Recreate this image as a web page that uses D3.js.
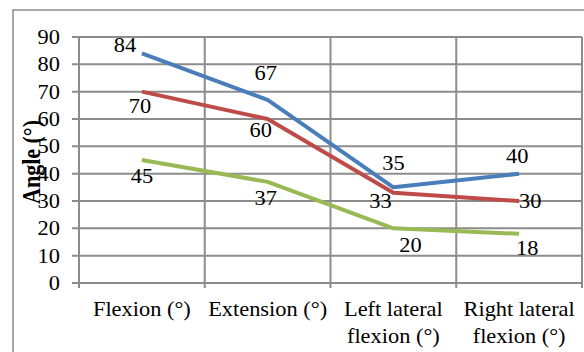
<!DOCTYPE html>
<html><head><meta charset="utf-8">
<script src="https://cdn.jsdelivr.net/npm/d3@7"></script>
<style>html,body{margin:0;padding:0;background:#fff;}svg{display:block;}
svg text{font-family:"Liberation Serif","Times New Roman",Tinos,"DejaVu Serif",serif;}</style>
</head><body>
<svg id="c" width="584" height="352"></svg>
<script>
// ---- data ----
const categories = ["Flexion (°)", "Extension (°)", "Left lateral flexion (°)", "Right lateral flexion (°)"];
const categoryLines = [["Flexion (°)"], ["Extension (°)"], ["Left lateral", "flexion (°)"], ["Right lateral", "flexion (°)"]];
const seriesBlue = [84, 67, 35, 40];
const seriesRed = [70, 60, 33, 30];
const seriesGreen = [45, 37, 20, 18];
const yTicks = [0, 10, 20, 30, 40, 50, 60, 70, 80, 90];
const yTitle = "Angle (°)";

// ---- presentation ----
const series = [
  {values: seriesBlue, color: "#4A7EBB", offs: [[-17,-1],[-2,-20],[0,-17],[-2,-11]]},
  {values: seriesRed, color: "#BE4B48", offs: [[-2,21],[-7,18],[-13,15],[11,7]]},
  {values: seriesGreen, color: "#98B954", offs: [[0,23],[-2,23],[17,24],[8,21]]}
];
const SX = 1.12, FS = 20;
const svg = d3.select("#c");
const L = 79, R = 582, T = 37, B = 283;
const x = d3.scaleBand().domain(categories).range([L, R]).padding(0);
const y = d3.scaleLinear().domain([0, 90]).range([B, T]);
const grid = "#8C8C8C";

// outer frame
svg.append("rect").attr("x", 13).attr("y", 10).attr("width", 600).attr("height", 400)
  .attr("fill", "none").attr("stroke", grid).attr("stroke-width", 1.5);

// horizontal gridlines + ticks
svg.append("g").selectAll("line").data(yTicks).join("line")
  .attr("x1", L - 7).attr("x2", R).attr("y1", d => y(d)).attr("y2", d => y(d))
  .attr("stroke", grid).attr("stroke-width", 2);
// vertical gridlines
const edges = categories.map(c => x(c)).concat([R]);
svg.append("g").selectAll("line").data(edges).join("line")
  .attr("x1", d => d).attr("x2", d => d).attr("y1", T).attr("y2", B + 5)
  .attr("stroke", grid).attr("stroke-width", 2);

function txt(g, s, tx, ty, anchor, extra) {
  return g.append("text").attr("transform", `translate(${tx},${ty}) scale(${SX},1)${extra||""}`)
    .attr("text-anchor", anchor).attr("font-size", FS).attr("fill", "#000").text(s);
}
// y tick labels
const gy = svg.append("g");
yTicks.forEach(v => txt(gy, v, 60, y(v) + 7, "end"));
// y title
const gt = svg.append("g");
txt(gt, yTitle, 40, 162, "middle", " rotate(-90)").attr("font-weight", "bold").attr("font-size", 22);

// category labels
const gc = svg.append("g");
categories.forEach((c, i) => {
  const cx = x(c) + x.bandwidth() / 2;
  categoryLines[i].forEach((ln, j) => txt(gc, ln, cx, 316 + j * 27, "middle"));
});

// lines
const line = d3.line().x((d, i) => x(categories[i]) + x.bandwidth() / 2).y(d => y(d));
series.forEach(s => {
  svg.append("path").datum(s.values).attr("d", line).attr("fill", "none")
    .attr("stroke", s.color).attr("stroke-width", 4).attr("stroke-linejoin", "round");
});
// data labels
const gl = svg.append("g");
series.forEach(s => {
  s.values.forEach((v, i) => {
    const px = x(categories[i]) + x.bandwidth() / 2, py = y(v);
    txt(gl, v, px + s.offs[i][0], py + s.offs[i][1], "middle");
  });
});
</script>
</body></html>
